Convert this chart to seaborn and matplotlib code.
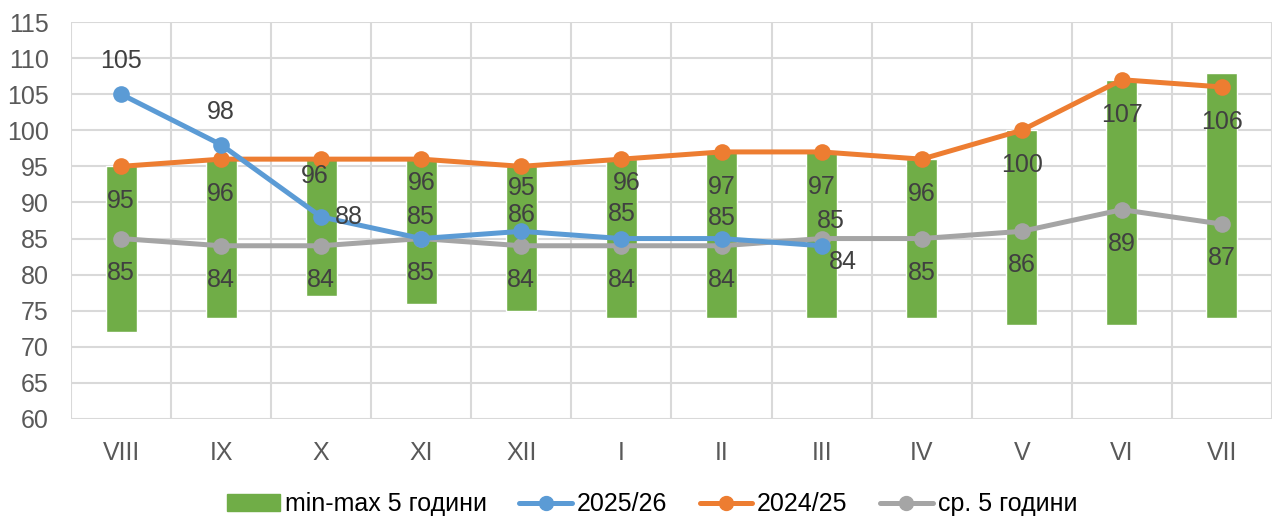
import numpy as np
import seaborn as sns
import matplotlib.pyplot as plt
from matplotlib.patches import Patch
from matplotlib.lines import Line2D

months = ["VIII", "IX", "X", "XI", "XII", "I", "II", "III", "IV", "V", "VI", "VII"]
min5 = [72, 74, 77, 76, 75, 74, 74, 74, 74, 73, 73, 74]
max5 = [95, 96, 96, 96, 95, 96, 97, 97, 96, 100, 107, 108]
cur = [105, 98, 88, 85, 86, 85, 85, 84]          # 2025/26
prev = [95, 96, 96, 96, 95, 96, 97, 97, 96, 100, 107, 106]  # 2024/25
avg5 = [85, 84, 84, 85, 84, 84, 84, 85, 85, 86, 89, 87]

GREEN, BLUE, ORANGE, GRAY = "#70AD47", "#5B9BD5", "#ED7D31", "#A5A5A5"
TXT = "#404040"

sns.set_theme(style="white")
plt.rcParams["font.family"] = ["Liberation Sans Narrow", "Liberation Sans", "DejaVu Sans"]

fig = plt.figure(figsize=(12.74, 5.2), dpi=100)
ax = fig.add_axes([71 / 1274, 1 - 419 / 520, 1201 / 1274, 397 / 520])

x = np.arange(len(months))
ax.bar(x, np.array(max5) - np.array(min5), bottom=min5, width=0.31, color=GREEN, zorder=2)

lw, ms = 3.6, 12
sns.lineplot(x=x, y=prev, ax=ax, color=ORANGE, lw=lw, marker="o", ms=ms,
             markeredgewidth=0, sort=False, zorder=3)
sns.lineplot(x=x, y=avg5, ax=ax, color=GRAY, lw=lw, marker="o", ms=ms,
             markeredgewidth=0, sort=False, zorder=3)
sns.lineplot(x=x[:len(cur)], y=cur, ax=ax, color=BLUE, lw=lw, marker="o", ms=ms,
             markeredgewidth=0, sort=False, zorder=4)

fs = 18


def lab(xi, yi, dx, dy):
    ax.annotate(f"{yi}", (xi, yi), xytext=(dx, dy), textcoords="offset pixels",
                ha="center", va="center", fontsize=fs, color=TXT, zorder=6)


# label placement (pixel offsets)
cur_off = [(0, 33), (0, 33), (28, 0), (0, 22), (0, 16), (0, 25), (0, 21), (21, -16)]
prev_off = [(0, -35)] * 12
prev_off[2] = (-6, -17)
prev_off[3] = (0, -24)
prev_off[4] = (0, -22)
prev_off[5] = (5, -24)
avg_off = [(0, -34)] * 12
avg_off[7] = (9, 18)

for i, v in enumerate(prev):
    lab(i, v, *prev_off[i])
for i, v in enumerate(avg5):
    lab(i, v, *avg_off[i])
for i, v in enumerate(cur):
    lab(i, v, *cur_off[i])

ax.set_xlim(-0.5, len(months) - 0.5)
ax.set_ylim(60, 115)
ax.set_yticks(range(60, 116, 5))
ax.set_xticks(x)
ax.set_xticklabels(months)
ax.set_xticks(np.arange(-0.5, len(months), 1), minor=True)
ax.grid(False)
ax.grid(axis="y", which="major", color="#D9D9D9", lw=1.5, zorder=0)
ax.grid(axis="x", which="minor", color="#D9D9D9", lw=1.5, zorder=0)
ax.tick_params(axis="both", which="both", length=0, labelsize=fs, colors="#595959")
ax.tick_params(axis="x", pad=16)
ax.tick_params(axis="y", pad=16)
for s in ax.spines.values():
    s.set_visible(False)
ax.set_xlabel("")
ax.set_ylabel("")

handles = [
    Patch(color=GREEN, label="min-max 5 години"),
    Line2D([], [], color=BLUE, lw=lw, marker="o", ms=10, label="2025/26"),
    Line2D([], [], color=ORANGE, lw=lw, marker="o", ms=10, label="2024/25"),
    Line2D([], [], color=GRAY, lw=lw, marker="o", ms=10, label="ср. 5 години"),
]
leg = fig.legend(handles=handles, loc="center", bbox_to_anchor=(0.512, 0.03), ncol=4,
                 frameon=False, fontsize=fs, handlelength=2.1, columnspacing=1.3,
                 handletextpad=0.2)
for t in leg.get_texts():
    t.set_color("#000000")

fig.savefig("out.png", dpi=100)
